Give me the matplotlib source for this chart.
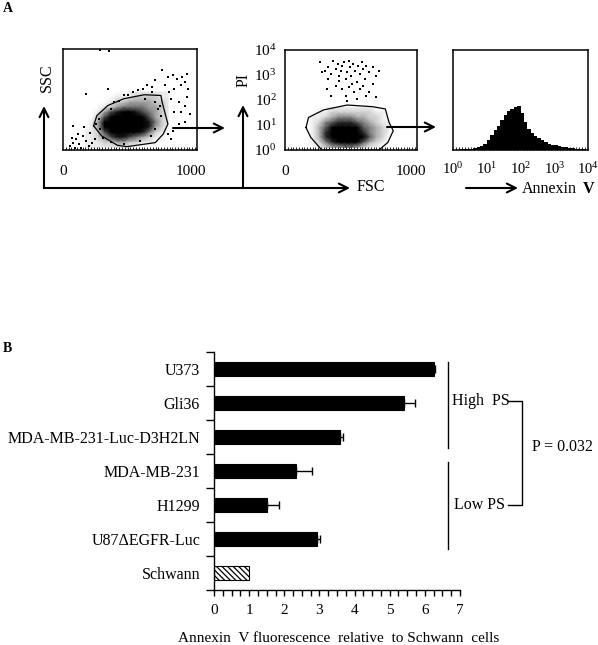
import numpy as np
import matplotlib as mpl
mpl.use('Agg')
import matplotlib.pyplot as plt
from matplotlib.ticker import FixedLocator, NullLocator, NullFormatter

plt.rcParams['font.family'] = ['Liberation Serif', 'DejaVu Serif']
plt.rcParams['mathtext.fontset'] = 'custom'
plt.rcParams['mathtext.rm'] = 'Liberation Serif'
plt.rcParams['mathtext.bf'] = 'Liberation Serif:bold'
plt.rcParams['hatch.linewidth'] = 0.9

# ---- panel A data ----
# SSC vs FSC: density of the main cloud, rows from high SSC to low SSC
fsc_nodes = [175, 225, 275, 325, 375, 425, 475, 525, 575, 625, 675, 725, 775, 825]
ssc_nodes = [575, 525, 475, 425, 375, 325, 275, 225, 175, 125, 75, 25]
ssc_density = [
    [0, 0, 0, 0, 0, 0, 0, 1, 1, 1, 1, 1, 1, 1],
    [0, 0, 0, 0, 0, 1, 1, 1, 2, 2, 2, 2, 1, 1],
    [0, 0, 0, 0, 1, 2, 2, 3, 3, 3, 3, 2, 2, 1],
    [0, 0, 0, 1, 2, 3, 4, 4, 4, 4, 3, 3, 2, 1],
    [0, 0, 1, 3, 5, 6, 7, 7, 6, 5, 4, 3, 2, 1],
    [0, 0, 2, 5, 8, 9, 9, 9, 8, 7, 5, 3, 2, 1],
    [0, 1, 3, 7, 9, 9, 9, 9, 9, 8, 6, 4, 2, 1],
    [0, 1, 3, 7, 9, 9, 9, 9, 9, 8, 6, 3, 2, 0],
    [1, 1, 2, 5, 8, 9, 9, 9, 8, 6, 4, 2, 1, 0],
    [1, 1, 2, 3, 5, 6, 6, 5, 4, 3, 2, 1, 0, 0],
    [1, 1, 1, 2, 2, 3, 3, 2, 2, 1, 1, 0, 0, 0],
    [1, 1, 1, 1, 1, 1, 1, 1, 0, 0, 0, 0, 0, 0],
]
ssc_dots_fsc = [772, 822, 859, 896, 933, 958, 970, 983, 921, 871, 834, 797, 723, 698,
                661, 624, 587, 550, 512, 475, 438, 401, 351, 376, 847, 908, 958, 921,
                871, 970, 995, 958, 908, 859, 822, 847, 178, 290, 364,
                54, 79, 104, 129, 92, 153, 178, 203, 116, 67, 228, 141, 215, 252, 79, 166,
                280, 292, 255, 720, 745, 770, 720, 690, 600, 480, 380, 315, 640, 700, 760]
ssc_dots_ssc = [790, 723, 740, 707, 723, 673, 757, 607, 640, 607, 573, 640, 690, 623,
                640, 607, 590, 573, 540, 540, 490, 473, 607, 407, 507, 473, 440, 373,
                373, 523, 357, 273, 257, 190, 157, 107, 557, 990, 980,
                40, 73, 107, 57, 23, 140, 90, 40, 157, 123, 73, 23, 173, 107, 240, 223,
                307, 207, 257, 473, 407, 340, 207, 140, 90, 60, 80, 120, 507, 573, 440]
gate1_fsc = [240, 265, 351, 475, 636, 767, 777, 822, 785, 723, 500, 426, 302, 240]
gate1_ssc = [240, 340, 440, 507, 547, 540, 473, 257, 157, 73, 33, 47, 140, 240]

# PI vs FSC
pi_nodes = [50, 32, 20, 12.6, 7.9, 5.0, 3.2, 2.0, 1.26]
pi_density = [
    [0, 0, 0, 0, 1, 1, 1, 1, 1, 1, 1, 0, 0, 0],
    [0, 0, 1, 1, 2, 2, 2, 2, 2, 2, 2, 1, 1, 0],
    [0, 1, 1, 2, 3, 4, 4, 4, 3, 3, 2, 2, 1, 0],
    [0, 1, 2, 4, 5, 6, 6, 6, 5, 4, 3, 2, 1, 1],
    [0, 1, 3, 5, 7, 8, 8, 7, 7, 5, 4, 3, 2, 1],
    [0, 1, 3, 6, 8, 9, 9, 9, 8, 6, 4, 3, 2, 1],
    [0, 1, 3, 6, 8, 9, 9, 9, 8, 7, 5, 3, 2, 0],
    [0, 1, 2, 4, 6, 7, 8, 8, 7, 5, 3, 2, 1, 0],
    [0, 0, 1, 2, 3, 3, 4, 4, 3, 2, 1, 1, 0, 0],
]
pi_dots_fsc = [280, 318, 343, 369, 381, 407, 419, 432, 444, 457, 470, 482, 495, 508,
               520, 525, 540, 558, 571, 583, 596, 609, 621, 634, 646, 672, 697, 722,
               747, 407, 457, 508, 545, 596, 646, 369, 482, 571, 432, 343, 293, 533,
               621, 672, 722, 331, 495, 697]
pi_dots_log = [3.52, 3.18, 3.32, 3.05, 3.58, 3.25, 3.45, 2.98, 3.18, 3.38, 3.54, 2.85,
               3.11, 3.58, 3.32, 2.95, 3.45, 3.18, 2.71, 3.38, 3.05, 3.52, 3.25, 2.85,
               3.38, 3.11, 3.32, 2.98, 3.18, 2.58, 2.44, 2.51, 2.31, 2.44, 2.17, 2.17,
               2.17, 2.04, 2.78, 2.85, 3.11, 2.64, 2.58, 2.31, 2.11, 2.44, 1.97, 2.64]
gate2_fsc = [167, 187, 306, 495, 697, 798, 828, 861, 818, 747, 293, 205, 167]
gate2_pi = [7.9, 20, 40, 63, 54, 44, 12.6, 5.9, 2.0, 1.0, 1.0, 3.2, 7.9]

# Annexin V histogram (log10 bin edges, counts)
annexin_edges_log = np.linspace(0, 4, 41)
annexin_counts = [1, 1, 2, 2, 3, 4, 6, 8, 12, 18, 30, 45, 60, 72, 90, 105, 117, 124,
                  128, 132, 110, 85, 62, 50, 42, 35, 30, 24, 17, 14, 14, 12, 10, 8,
                  6, 5, 4, 3, 2, 1]

# ---- panel B data ----
cell_lines = ['U373', 'Gli36', 'MDA-MB-231-Luc-D3H2LN', 'MDA-MB-231', 'H1299',
              'U87ΔEGFR-Luc', 'Schwann']
annexin_rel = [6.25, 5.42, 3.58, 2.32, 1.50, 2.92, 1.00]
annexin_err = [0.03, 0.30, 0.10, 0.48, 0.35, 0.10, 0.0]

W, H = 598, 645
fig = plt.figure(figsize=(W / 100, H / 100), dpi=100)


def px_axes(x0, y0, x1, y1):
    return fig.add_axes([x0 / W, 1 - y1 / H, (x1 - x0) / W, (y1 - y0) / H])


def facs_box(ax):
    for s in ax.spines.values():
        s.set_linewidth(1.1)
    ax.tick_params(which='major', length=0, pad=11, labelsize=11)
    ax.tick_params(which='minor', length=2, direction='in', bottom=True, left=False)
    ax.xaxis.set_minor_formatter(NullFormatter())


# plot 1: SSC vs FSC
ax1 = px_axes(63, 49, 197, 150)
X, Y = np.meshgrid(fsc_nodes, ssc_nodes)
ax1.pcolormesh(X, Y, np.array(ssc_density), shading='gouraud', cmap='Greys', vmin=0, vmax=6.5)
ax1.scatter(ssc_dots_fsc, ssc_dots_ssc, s=0.9, c='k', marker='s', lw=0)
ax1.plot(gate1_fsc, gate1_ssc, color='k', lw=0.9)
ax1.set_xlim(0, 1050)
ax1.set_ylim(0, 1000)
ax1.set_xticks([0, 1000])
ax1.set_yticks([])
ax1.xaxis.set_minor_locator(FixedLocator(np.arange(0, 1050, 22)))
facs_box(ax1)

# plot 2: PI vs FSC
ax2 = px_axes(285, 50, 417, 150)
X2, Y2 = np.meshgrid(fsc_nodes, pi_nodes)
ax2.set_yscale('log')
ax2.pcolormesh(X2, Y2, np.array(pi_density), shading='gouraud', cmap='Greys', vmin=0, vmax=7)
ax2.scatter(pi_dots_fsc, 10 ** np.array(pi_dots_log), s=0.9, c='k', marker='s', lw=0)
ax2.plot(gate2_fsc, gate2_pi, color='k', lw=0.9)
ax2.set_xlim(0, 1050)
ax2.set_ylim(1, 1e4)
ax2.set_xticks([0, 1000])
ax2.set_yticks([1, 10, 100, 1000, 10000])
ax2.yaxis.set_minor_locator(NullLocator())
ax2.xaxis.set_minor_locator(FixedLocator(np.arange(0, 1050, 22)))
facs_box(ax2)
ax2.tick_params(axis='y', pad=6)

# plot 3: Annexin V histogram
ax3 = px_axes(453, 50, 588, 150)
ax3.set_xscale('log')
ax3.stairs(annexin_counts, 10 ** annexin_edges_log, fill=True, color='k')
ax3.set_xlim(1, 1e4)
ax3.set_ylim(0, 300)
ax3.set_xticks([1, 10, 100, 1000, 10000])
ax3.set_yticks([])
ax3.xaxis.set_minor_locator(FixedLocator(10 ** np.linspace(0, 4, 45)))
facs_box(ax3)
ax3.tick_params(axis='x', which='major', pad=8, labelsize=10.5)

# overlay in pixel units for arrows and panel A labels
ov = fig.add_axes([0, 0, 1, 1])
ov.set_xlim(0, W)
ov.set_ylim(H, 0)
ov.axis('off')
arrow = dict(arrowstyle='->', lw=1.5, shrinkA=0, shrinkB=0, mutation_scale=16, color='k')
ov.plot([44, 243], [188, 188], color='k', lw=1.5)
for tail, tip in [((44, 188), (44, 106)), ((243, 188), (243, 105)), ((243, 188), (350, 188)),
                  ((173, 128), (225, 128)), ((387, 127), (436, 127)), ((466, 188), (518, 188))]:
    ov.annotate('', xy=tip, xytext=tail, arrowprops=arrow)
ov.text(8, 9, 'A', fontsize=10, fontweight='bold', ha='center', va='center')
ov.text(7, 348, 'B', fontsize=10, fontweight='bold', ha='center', va='center')
ov.text(47, 78, 'SSC', fontsize=11.5, rotation=90, ha='center', va='center')
ov.text(244, 80, 'PI', fontsize=11.5, rotation=90, ha='center', va='center')
ov.text(357, 187, 'FSC', fontsize=11.5, ha='left', va='center')
ov.text(522, 189, 'Annexin', fontsize=11.5, ha='left', va='center')
ov.text(583, 189, 'V', fontsize=11.5, fontweight='bold', ha='left', va='center')

# ---- panel B ----
axb = px_axes(214, 352, 460, 590)
ypos = np.arange(len(cell_lines))
colors = ['k'] * 6 + ['white']
bars = axb.barh(ypos, annexin_rel, height=0.44, color=colors, edgecolor='k', lw=0.8)
bars[-1].set_hatch('\\\\\\\\\\\\')
axb.errorbar(annexin_rel[:-1], ypos[:-1],
             xerr=[np.zeros(6), annexin_err[:-1]],
             fmt='none', ecolor='k', elinewidth=1, capsize=3, capthick=1)
axb.set_xlim(0, 7)
axb.set_ylim(6.5, -0.5)
axb.spines['top'].set_visible(False)
axb.spines['right'].set_visible(False)
for s in ['left', 'bottom']:
    axb.spines[s].set_linewidth(1)
axb.set_yticks(np.arange(-0.5, 7, 1))
axb.set_yticklabels([])
axb.set_yticks(ypos, minor=True)
axb.set_yticklabels(cell_lines, minor=True, fontsize=11.5)
axb.tick_params(axis='y', which='major', length=6, width=1, direction='out')
axb.tick_params(axis='y', which='minor', length=0, pad=10)
axb.set_xticks(range(8))
axb.set_xticklabels([str(i) for i in range(8)], fontsize=11)
axb.xaxis.set_minor_locator(FixedLocator(np.arange(0, 7.01, 0.25)))
axb.tick_params(axis='x', which='both', length=4, width=1, direction='out', pad=6)

lk = dict(color='k', lw=1, clip_on=False)
axb.plot([6.66, 6.66], [-0.21, 2.32], **lk)
axb.plot([6.66, 6.66], [2.74, 5.29], **lk)
axb.plot([8.37, 8.77, 8.77, 8.37], [0.94, 0.94, 4.0, 4.0], **lk)
axb.text(6.77, 0.94, 'High  PS', fontsize=11.5, ha='left', va='center')
axb.text(6.83, 4.0, 'Low PS', fontsize=11.5, ha='left', va='center')
axb.text(9.05, 2.29, 'P = 0.032', fontsize=11.5, ha='left', va='center')

fig.text(339 / W, 1 - 638 / H, 'Annexin  V fluorescence  relative  to Schwann  cells',
         fontsize=11, ha='center', va='center')

fig.savefig('out.png', dpi=100)
